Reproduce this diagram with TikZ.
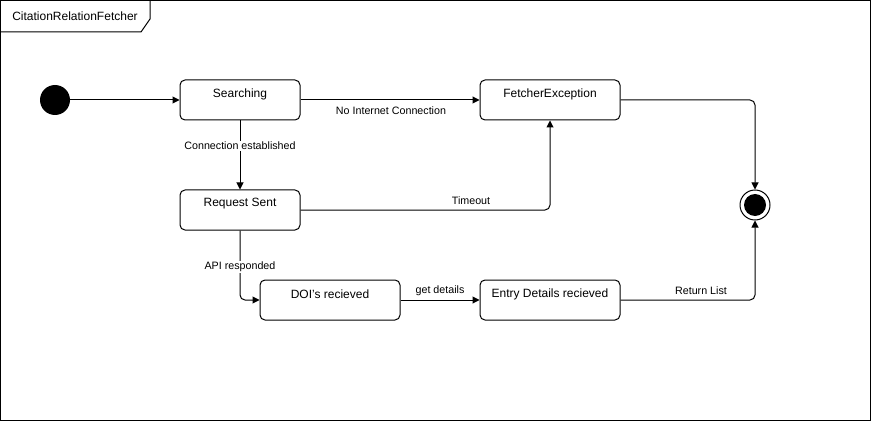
\documentclass[tikz,border=0pt]{standalone}
\usepackage{fontspec}
\setmainfont{Liberation Sans}
\usetikzlibrary{arrows.meta,positioning}
\begin{document}
\begin{tikzpicture}[x=1pt,y=-1pt,
  statebox/.style={draw,line width=1pt,rounded corners=5pt,minimum width=120pt,minimum height=40pt,inner sep=0pt},
  stlabel/.style={font=\fontsize{12}{14}\selectfont,inner sep=0pt},
  elabel/.style={font=\fontsize{10.7}{13}\selectfont,inner sep=1pt},
  tr/.style={draw,line width=1pt,-{Triangle[length=7pt,width=7pt]},rounded corners=5pt}]
\useasboundingbox (0,0) rectangle (872,422);
\draw[line width=1pt] (0.5,0.5) rectangle (870.5,420.5);
\draw[line width=1pt] (0.5,32) -- (141,32) -- (150,19) -- (150,0.5);
\node[font=\fontsize{12}{14}\selectfont,inner sep=0pt] (title) at (75,16) {CitationRelationFetcher};
% states
\node[circle,fill=black,minimum size=30pt,inner sep=0pt] (init) at (55,100) {};
\node[statebox,minimum width=120pt] (search) at (240,100) {};
\node[stlabel] (searchT) at (240,94) {Searching};
\node[statebox,minimum width=140pt] (fetch) at (550,100) {};
\node[stlabel] (fetchT) at (550,94) {FetcherException};
\node[statebox,minimum width=120pt] (req) at (240,210) {};
\node[stlabel] (reqT) at (240,204) {Request Sent};
\node[statebox,minimum width=140pt] (doi) at (330,300) {};
\node[stlabel] (doiT) at (330,294) {DOI's recieved};
\node[statebox,minimum width=140pt] (entry) at (550,300) {};
\node[stlabel] (entryT) at (550,294) {Entry Details recieved};
\node[circle,draw,line width=1pt,minimum size=30pt,inner sep=0pt] (final) at (755,205) {};
\node[circle,fill=black,minimum size=22pt,inner sep=0pt] (finalIn) at (755,205) {};
% transitions
\draw[tr] (init.east) -- (search.west);
\draw[tr] (search.east) -- (fetch.west);
\node[elabel] (l1) at (391,111) {No Internet Connection};
\draw[tr] (search.south) -- (req.north);
\node[elabel,fill=white] (l2) at (240,146) {Connection established};
\draw[tr] (req.east) -- (550,210) -- (fetch.south);
\node[elabel] (l3) at (471,201) {Timeout};
\draw[tr] (fetch.east) -- (755,100) -- (final.north);
\draw[tr] (req.south) -- (240,300) -- (doi.west);
\node[elabel,fill=white] (l4) at (240,267) {API responded};
\draw[tr] (doi.east) -- (entry.west);
\node[elabel] (l5) at (440,291) {get details};
\draw[tr] (entry.east) -- (755,300) -- (final.south);
\node[elabel] (l6) at (701,291) {Return List};
\end{tikzpicture}
\end{document}
